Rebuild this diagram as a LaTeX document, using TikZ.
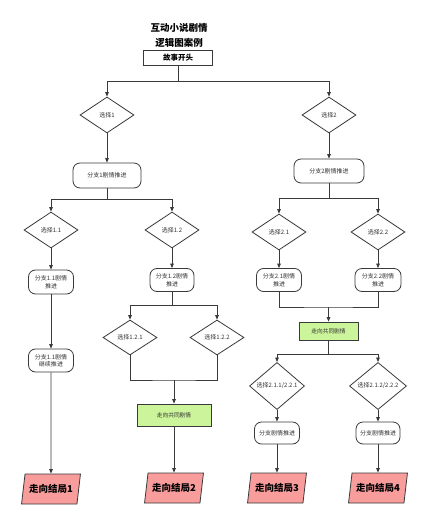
\documentclass[tikz,border=0pt]{standalone}
\usepackage{fontspec}
\setmainfont{Noto Sans CJK SC}
\usetikzlibrary{shapes.geometric,arrows.meta}
\definecolor{lncol}{HTML}{3A3A3A}
\definecolor{txtcol}{HTML}{333333}
\definecolor{grn}{HTML}{CCF49A}
\definecolor{pnk}{HTML}{F89C9C}
\tikzset{
  base/.style={draw=lncol, line width=0.8pt, inner sep=0pt, align=center, text=txtcol,
    font=\fontsize{6}{7.5}\selectfont},
  choice/.style={base, diamond, minimum width=54pt, minimum height=36pt},
  proc/.style={base, rectangle, rounded corners=7pt, minimum width=45pt, minimum height=23pt},
  commonbox/.style={base, rectangle, fill=grn, minimum width=74pt, minimum height=22pt, font=\fontsize{5.7}{7}\selectfont},
  endbox/.style={base, trapezium, trapezium left angle=72, trapezium right angle=108,
    trapezium stretches=true, fill=pnk, minimum width=59pt, minimum height=30pt,
    font=\bfseries\fontsize{9.5}{11}\selectfont, text=black},
  arr/.style={draw=lncol, line width=0.8pt, -{Triangle[length=4.5pt,width=3.6pt]}},
  plain/.style={draw=lncol, line width=0.8pt},
}
\begin{document}
\begin{tikzpicture}[x=1pt,y=-1pt]
\fill[white] (0,0) rectangle (436,532);
\useasboundingbox (0,0) rectangle (436,532);
% title
\node[font=\bfseries\fontsize{9.5}{15}\selectfont, align=center, text=black] (title) at (179,35.5) {互动小说剧情\\逻辑图案例};
\node[base, rectangle, minimum width=69pt, minimum height=15pt, text=black, font=\bfseries\fontsize{7.5}{9}\selectfont] (start) at (178,57.5) {故事开头};
% level 1
\coordinate (j0) at (178,81);
\node[choice] (d1) at (107,115) {选择1};
\node[choice] (d2) at (329,115) {选择2};
\draw[plain] (start) -- (j0);
\draw[arr] (j0) -| (d1);
\draw[arr] (j0) -| (d2);
\node[proc, minimum width=68pt, minimum height=25pt] (b1) at (107,175.5) {分支1剧情推进};
\node[proc, minimum width=70pt, minimum height=24pt] (b2) at (329,171) {分支2剧情推进};
\draw[arr] (d1) -- (b1);
\draw[arr] (d2) -- (b2);
% level 2 left
\coordinate (j1) at (107,199);
\node[choice] (d11) at (51,230) {选择1.1};
\node[choice] (d12) at (172,230) {选择1.2};
\draw[plain] (b1) -- (j1);
\draw[arr] (j1) -| (d11);
\draw[arr] (j1) -| (d12);
% level 2 right
\coordinate (j2) at (329,198);
\node[choice] (d21) at (279,232) {选择2.1};
\node[choice] (d22) at (378,232) {选择2.2};
\draw[plain] (b2) -- (j2);
\draw[arr] (j2) -| (d21);
\draw[arr] (j2) -| (d22);
% branch 1.1
\node[proc, minimum height=24pt] (b11) at (51,282) {分支1.1剧情\\推进};
\node[proc] (b111) at (51,360.5) {分支1.1剧情\\继续推进};
\node[endbox] (e1) at (51,489) {走向结局1};
\draw[arr] (d11) -- (b11);
\draw[arr] (b11) -- (b111);
\draw[arr] (b111) -- (e1);
% branch 1.2
\node[proc, minimum width=44pt] (b12) at (172,280) {分支1.2剧情\\推进};
\draw[arr] (d12) -- (b12);
\coordinate (j3) at (172,305);
\node[choice, minimum height=35pt] (d121) at (130,337.5) {选择1.2.1};
\node[choice, minimum height=35pt] (d122) at (217,337.5) {选择1.2.2};
\draw[plain] (b12) -- (j3);
\draw[arr] (j3) -| (d121);
\draw[arr] (j3) -| (d122);
\coordinate (m1) at (174,380);
\draw[plain] (d121.south) |- (m1) -| (d122.south);
\node[commonbox] (g1) at (174,415) {走向共同剧情};
\draw[arr] (m1) -- (g1);
\node[endbox] (e2) at (174,488) {走向结局2};
\draw[arr] (g1) -- (e2);
% branch 2.x
\node[proc] (b21) at (279,280) {分支2.1剧情\\推进};
\node[proc, minimum width=46pt] (b22) at (378,280) {分支2.2剧情\\推进};
\draw[arr] (d21) -- (b21);
\draw[arr] (d22) -- (b22);
\coordinate (m2) at (328.5,307);
\draw[plain] (b21.south) |- (m2) -| (b22.south);
\node[commonbox, minimum width=59pt, minimum height=18pt] (g2) at (328.5,331) {走向共同剧情};
\draw[arr] (m2) -- (g2);
\coordinate (j6) at (328.5,354);
\node[choice, minimum width=55pt] (d211) at (277,386) {选择2.1.1/2.2.1};
\node[choice, minimum width=57pt] (d212) at (378,386) {选择2.1.2/2.2.2};
\draw[plain] (g2) -- (j6);
\draw[arr] (j6) -| (d211);
\draw[arr] (j6) -| (d212);
\node[proc, minimum height=22pt] (b211) at (277,433) {分支剧情推进};
\node[proc, minimum width=44pt, minimum height=22pt] (b212) at (378,433) {分支剧情推进};
\draw[arr] (d211) -- (b211);
\draw[arr] (d212) -- (b212);
\node[endbox] (e3) at (277,488) {走向结局3};
\node[endbox] (e4) at (378,488) {走向结局4};
\draw[arr] (b211) -- (e3);
\draw[arr] (b212) -- (e4);
\end{tikzpicture}
\end{document}
